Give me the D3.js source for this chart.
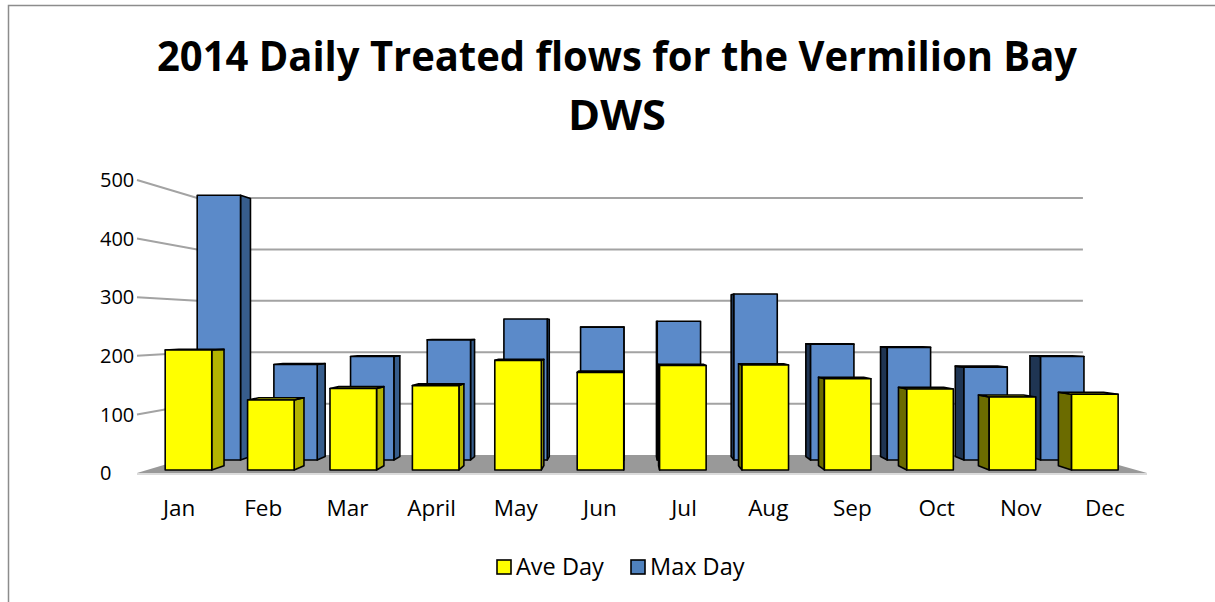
<!DOCTYPE html>
<html>
<head>
<meta charset="utf-8">
<script src="https://cdn.jsdelivr.net/npm/d3@7"></script>
<style>
  html, body { margin: 0; padding: 0; background: #fff; }
  svg { display: block; }
  text { font-family: 'Open Sans', 'Noto Sans', sans-serif; fill: #000; }
</style>
</head>
<body>
<svg id="chart" width="1215" height="602"></svg>
<script>
// Chart data
const months = ['Jan', 'Feb', 'Mar', 'April', 'May', 'Jun', 'Jul', 'Aug', 'Sep', 'Oct', 'Nov', 'Dec'];
const aveDay = [209, 122, 142, 147, 191, 170, 182, 183, 159, 141, 127, 132];
const maxDay = [496, 179, 194, 225, 264, 249, 260, 311, 217, 211, 174, 194];
const yTicks = [0, 100, 200, 300, 400, 500];
const seriesNames = ['Ave Day', 'Max Day'];

const W = 1215, H = 602;
const svg = d3.select('#chart');

// Perspective setup: front plane coords get pulled toward a vanishing point
const vp = [626, 327];
const depth = { floorFront: 1, aveFront: 0.979, aveBack: 0.95, maxFront: 0.911, maxBack: 0.8875, wall: 0.877 };
const proj = (x, y, s) => [vp[0] + (x - vp[0]) * s, vp[1] + (y - vp[1]) * s];
const poly = pts => pts.map(p => p.join(',')).join(' ');

const x = d3.scaleBand()
    .domain(months)
    .range([137, 1147])
    .paddingInner(0.435)
    .paddingOuter(0.2175);

const y = d3.scaleLinear()
    .domain([0, 500])
    .range([473, 180]);

const x0 = x.range()[0], x1 = x.range()[1];

// Outer frame (only left and top edges are in the picture)
svg.append('path')
    .attr('d', `M8.5,${H} L8.5,5.5 L${W},5.5`)
    .attr('fill', 'none')
    .attr('stroke', '#8c8c8c')
    .attr('stroke-width', 1.5);

// Title
const title = svg.append('text')
    .attr('text-anchor', 'middle')
    .attr('font-weight', 700)
    .attr('font-size', '41px');
title.append('tspan').attr('x', 617).attr('y', 71)
    .attr('textLength', 920).attr('lengthAdjust', 'spacingAndGlyphs')
    .text('2014 Daily Treated flows for the Vermilion Bay');
title.append('tspan').attr('x', 617).attr('y', 130)
    .attr('textLength', 98).attr('lengthAdjust', 'spacingAndGlyphs')
    .text('DWS');

// Gridlines on the back wall and the left side wall
const grid = svg.append('g')
    .attr('stroke', '#a3a3a3')
    .attr('stroke-width', 2)
    .attr('fill', 'none');

yTicks.filter(t => t > 0).forEach(t => {
    const a = proj(x0, y(t), 1), b = proj(x0, y(t), depth.wall), c = proj(x1, y(t), depth.wall);
    grid.append('polyline').attr('points', poly([a, b, c]));
});

// Floor
const floorPts = [proj(x0, y(0), 1), proj(x1, y(0), 1), proj(x1, y(0), depth.wall), proj(x0, y(0), depth.wall)];
svg.append('polygon')
    .attr('points', poly(floorPts))
    .attr('fill', '#999999');
svg.append('line')
    .attr('x1', floorPts[0][0]).attr('y1', floorPts[0][1] + 1)
    .attr('x2', floorPts[1][0]).attr('y2', floorPts[1][1] + 1)
    .attr('stroke', '#cfcfcf').attr('stroke-width', 1.5);

// 3D bars
function drawBars(values, sFront, sBack, colors) {
    const g = svg.append('g')
        .attr('stroke', '#000')
        .attr('stroke-width', 1.6)
        .attr('stroke-linejoin', 'round');

    months.forEach((m, i) => {
        const l = x(m), r = x(m) + x.bandwidth();
        const top = y(values[i]), bot = y(0);
        const F = (px, py) => proj(px, py, sFront);
        const B = (px, py) => proj(px, py, sBack);

        // side face (whichever side faces the viewer)
        if (r < vp[0]) {
            g.append('polygon')
                .attr('points', poly([F(r, top), B(r, top), B(r, bot), F(r, bot)]))
                .attr('fill', colors.right);
        } else if (l > vp[0]) {
            g.append('polygon')
                .attr('points', poly([F(l, top), B(l, top), B(l, bot), F(l, bot)]))
                .attr('fill', colors.left);
        }
        // top face (only visible when the top sits below eye height)
        if (top > vp[1]) {
            g.append('polygon')
                .attr('points', poly([F(l, top), F(r, top), B(r, top), B(l, top)]))
                .attr('fill', colors.top);
        }
        // front face
        g.append('polygon')
            .attr('points', poly([F(l, top), F(r, top), F(r, bot), F(l, bot)]))
            .attr('fill', colors.front);
    });
}

drawBars(maxDay, depth.maxFront, depth.maxBack,
    { front: '#5b8ac9', right: '#375d8c', left: '#1f3553', top: '#7aa3d8' });
drawBars(aveDay, depth.aveFront, depth.aveBack,
    { front: '#ffff00', right: '#b3b300', left: '#6b6b00', top: '#e6e600' });

// Value axis labels (front edge)
svg.append('g')
    .selectAll('text')
    .data(yTicks)
    .join('text')
    .attr('x', 100)
    .attr('y', d => y(d))
    .attr('dy', '0.36em')
    .attr('text-anchor', 'start')
    .attr('font-size', '20px')
    .text(d => d);

// Category labels
svg.append('g')
    .selectAll('text')
    .data(months)
    .join('text')
    .attr('x', d => x(d) + x.bandwidth() / 2)
    .attr('y', 516)
    .attr('text-anchor', 'middle')
    .attr('font-size', '22.5px')
    .text(d => d);

// Legend
const legendColors = ['#ffff00', '#4f81bd'];
const legend = svg.append('g')
    .selectAll('g')
    .data(seriesNames)
    .join('g')
    .attr('transform', (d, i) => `translate(${[497, 631][i]}, 560)`);

legend.append('rect')
    .attr('width', 14)
    .attr('height', 14)
    .attr('fill', (d, i) => legendColors[i])
    .attr('stroke', '#000')
    .attr('stroke-width', 1.6);

legend.append('text')
    .attr('x', 19)
    .attr('y', 7)
    .attr('dy', '0.36em')
    .attr('font-size', '23.5px')
    .text(d => d);
</script>
</body>
</html>
